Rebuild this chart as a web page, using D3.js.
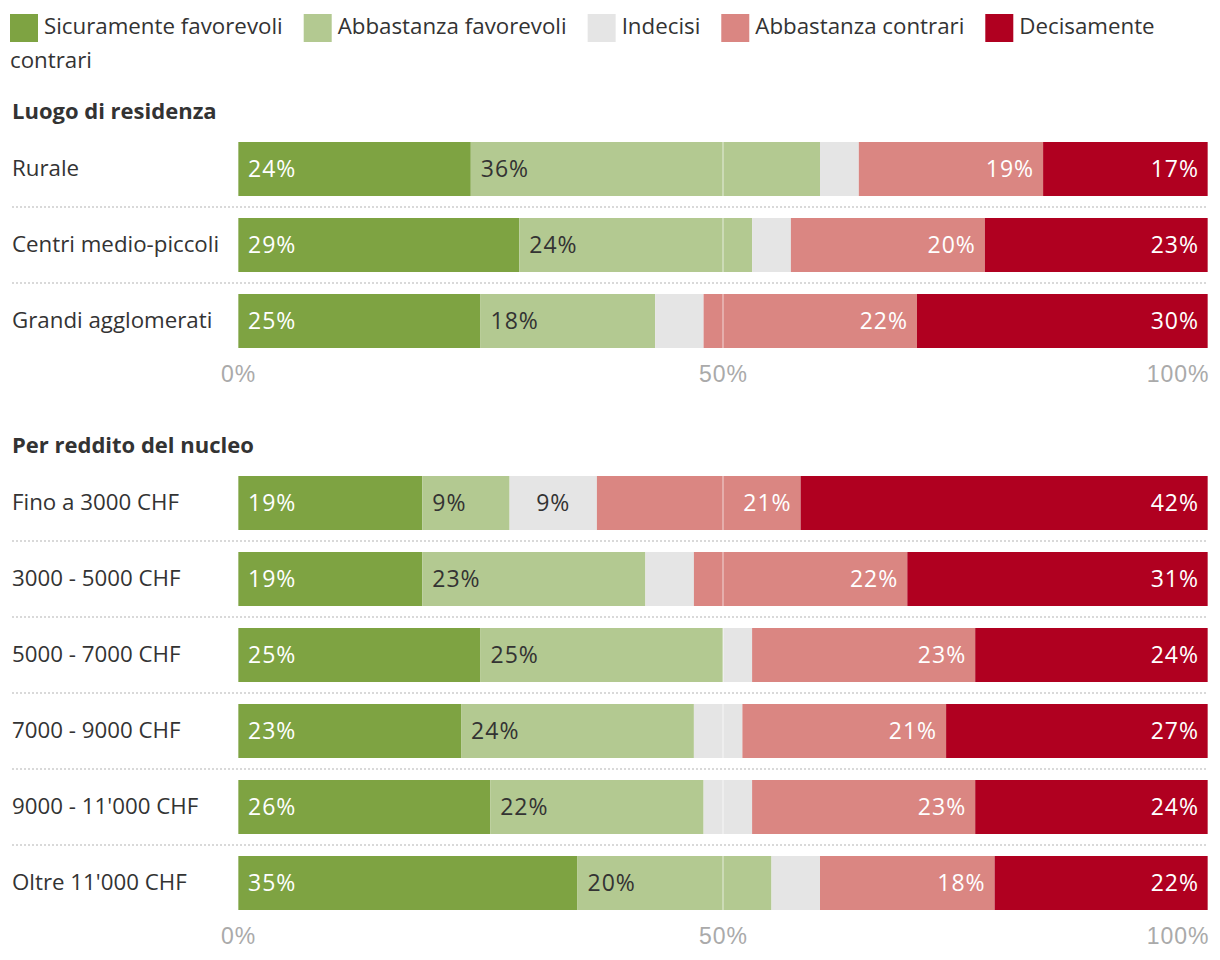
<!DOCTYPE html>
<html>
<head>
<meta charset="utf-8">
<script src="https://cdn.jsdelivr.net/npm/d3@7"></script>
<style>
  html, body { margin: 0; padding: 0; background: #fff; }
  body { width: 1220px; height: 960px; overflow: hidden; }
  svg { display: block; font-family: "Open Sans", "Noto Sans", sans-serif; }
</style>
</head>
<body>
<svg id="chart" width="1220" height="960"></svg>
<script>
const series = ["Sicuramente favorevoli", "Abbastanza favorevoli", "Indecisi", "Abbastanza contrari", "Decisamente contrari"];
const colors = ["#7ea342", "#b3c991", "#e5e5e5", "#da8682", "#b00020"];
const labelColors = ["#ffffff", "#333333", "#333333", "#ffffff", "#ffffff"];

const group1Title = "Luogo di residenza";
const group1Cats = ["Rurale", "Centri medio-piccoli", "Grandi agglomerati"];
const group1Values = [
  [24, 36, 4, 19, 17],
  [29, 24, 4, 20, 23],
  [25, 18, 5, 22, 30]
];

const group2Title = "Per reddito del nucleo";
const group2Cats = ["Fino a 3000 CHF", "3000 - 5000 CHF", "5000 - 7000 CHF", "7000 - 9000 CHF", "9000 - 11'000 CHF", "Oltre 11'000 CHF"];
const group2Values = [
  [19, 9, 9, 21, 42],
  [19, 23, 5, 22, 31],
  [25, 25, 3, 23, 24],
  [23, 24, 5, 21, 27],
  [26, 22, 5, 23, 24],
  [35, 20, 5, 18, 22]
];

const tickValues = [0, 50, 100];

const svg = d3.select("#chart");
const TEXT = 22.3, NUM = 23, NUM_LS = 1;

// Legend (SVG, wrapped word by word)
(function () {
  const lg = svg.append("g");
  const maxX = 1212, lineH = 34, sw = 28;
  let cx = 10, line = 0;
  const measure = t => {
    const tmp = lg.append("text").attr("font-size", TEXT).text(t);
    const w = tmp.node().getComputedTextLength(); tmp.remove(); return w;
  };
  const spaceW = measure("a b") - measure("ab");
  series.forEach((s, i) => {
    const words = s.split(" ");
    if (cx + sw + 6 + measure(words[0]) > maxX) { cx = 10; line++; }
    lg.append("rect").attr("x", cx).attr("y", 14 + line * lineH).attr("width", sw).attr("height", sw).attr("fill", colors[i]);
    cx += sw + 6;
    let chunk = "", chunkX = cx;
    words.forEach((w, wi) => {
      const cand = chunk ? chunk + " " + w : w;
      if (chunk && chunkX + measure(cand) > maxX) {
        lg.append("text").attr("x", chunkX).attr("y", 34 + line * lineH).attr("font-size", TEXT).attr("fill", "#333").text(chunk);
        line++; chunkX = 10; chunk = w;
      } else chunk = cand;
    });
    lg.append("text").attr("x", chunkX).attr("y", 34 + line * lineH).attr("font-size", TEXT).attr("fill", "#333").text(chunk);
    cx = chunkX + measure(chunk) + 21;
  });
})();

const x = d3.scaleLinear().domain([0, 100]).range([238, 1208]);

function drawGroup(title, titleY, cats, values, top) {
  const step = 76, bh = 54;
  const y = d3.scaleBand().domain(cats)
    .range([top, top + cats.length * step - (step - bh)])
    .paddingInner((step - bh) / step).paddingOuter(0);
  const g = svg.append("g");

  g.append("text").attr("x", 12).attr("y", titleY)
    .attr("font-size", 22).attr("font-weight", 700).attr("fill", "#333").text(title);

  // separators
  cats.slice(1).forEach(c => {
    const yy = y(c) - (step - bh) / 2;
    g.append("line").attr("x1", 12).attr("x2", 1208).attr("y1", yy).attr("y2", yy)
      .attr("stroke", "#d9d9d9").attr("stroke-width", 2).attr("stroke-dasharray", "2,2");
  });

  cats.forEach((c, ci) => {
    const vals = values[ci];
    const row = g.append("g");
    row.append("text").attr("x", 12).attr("y", y(c) + bh / 2).attr("dy", "0.3em")
      .attr("font-size", TEXT).attr("fill", "#333").text(c);
    let cum = 0;
    const segs = vals.map((v, i) => { const s = { i, v, x0: cum, x1: cum + v }; cum += v; return s; });
    row.selectAll("rect").data(segs).join("rect")
      .attr("x", d => x(d.x0)).attr("width", d => x(d.x1) - x(d.x0))
      .attr("y", y(c)).attr("height", bh).attr("fill", d => colors[d.i]);
    // gridlines over bars
    tickValues.forEach(t => {
      row.append("line").attr("x1", x(t)).attr("x2", x(t)).attr("y1", y(c)).attr("y2", y(c) + bh)
        .attr("stroke", "#fff").attr("stroke-opacity", 0.45).attr("stroke-width", 1.5);
    });
    row.selectAll("text.val").data(segs.filter(d => d.v >= 7)).join("text")
      .attr("class", "val")
      .attr("x", d => d.i < 2 ? x(d.x0) + 10 : d.i === 2 ? (x(d.x0) + x(d.x1)) / 2 : x(d.x1) - 10 + NUM_LS)
      .attr("text-anchor", d => d.i < 2 ? "start" : d.i === 2 ? "middle" : "end")
      .attr("y", y(c) + bh / 2).attr("dy", "0.34em")
      .attr("font-size", NUM).attr("letter-spacing", NUM_LS).attr("fill", d => labelColors[d.i])
      .text(d => d.v + "%");
  });

  const bottom = y(cats[cats.length - 1]) + bh;
  const axis = d3.axisBottom(x).tickValues(tickValues).tickFormat(d => d + "%").tickSize(0).tickPadding(18);
  const ag = g.append("g").attr("transform", `translate(0,${bottom})`).call(axis);
  ag.select(".domain").remove();
  ag.selectAll("text").attr("font-size", NUM).attr("letter-spacing", NUM_LS).attr("fill", "#aaa")
    .attr("font-family", "inherit")
    .attr("x", d => d === 100 ? NUM_LS : 0)
    .attr("text-anchor", d => d === 100 ? "end" : "middle");
}

drawGroup(group1Title, 119, group1Cats, group1Values, 142);
drawGroup(group2Title, 453, group2Cats, group2Values, 476);
</script>
</body>
</html>
